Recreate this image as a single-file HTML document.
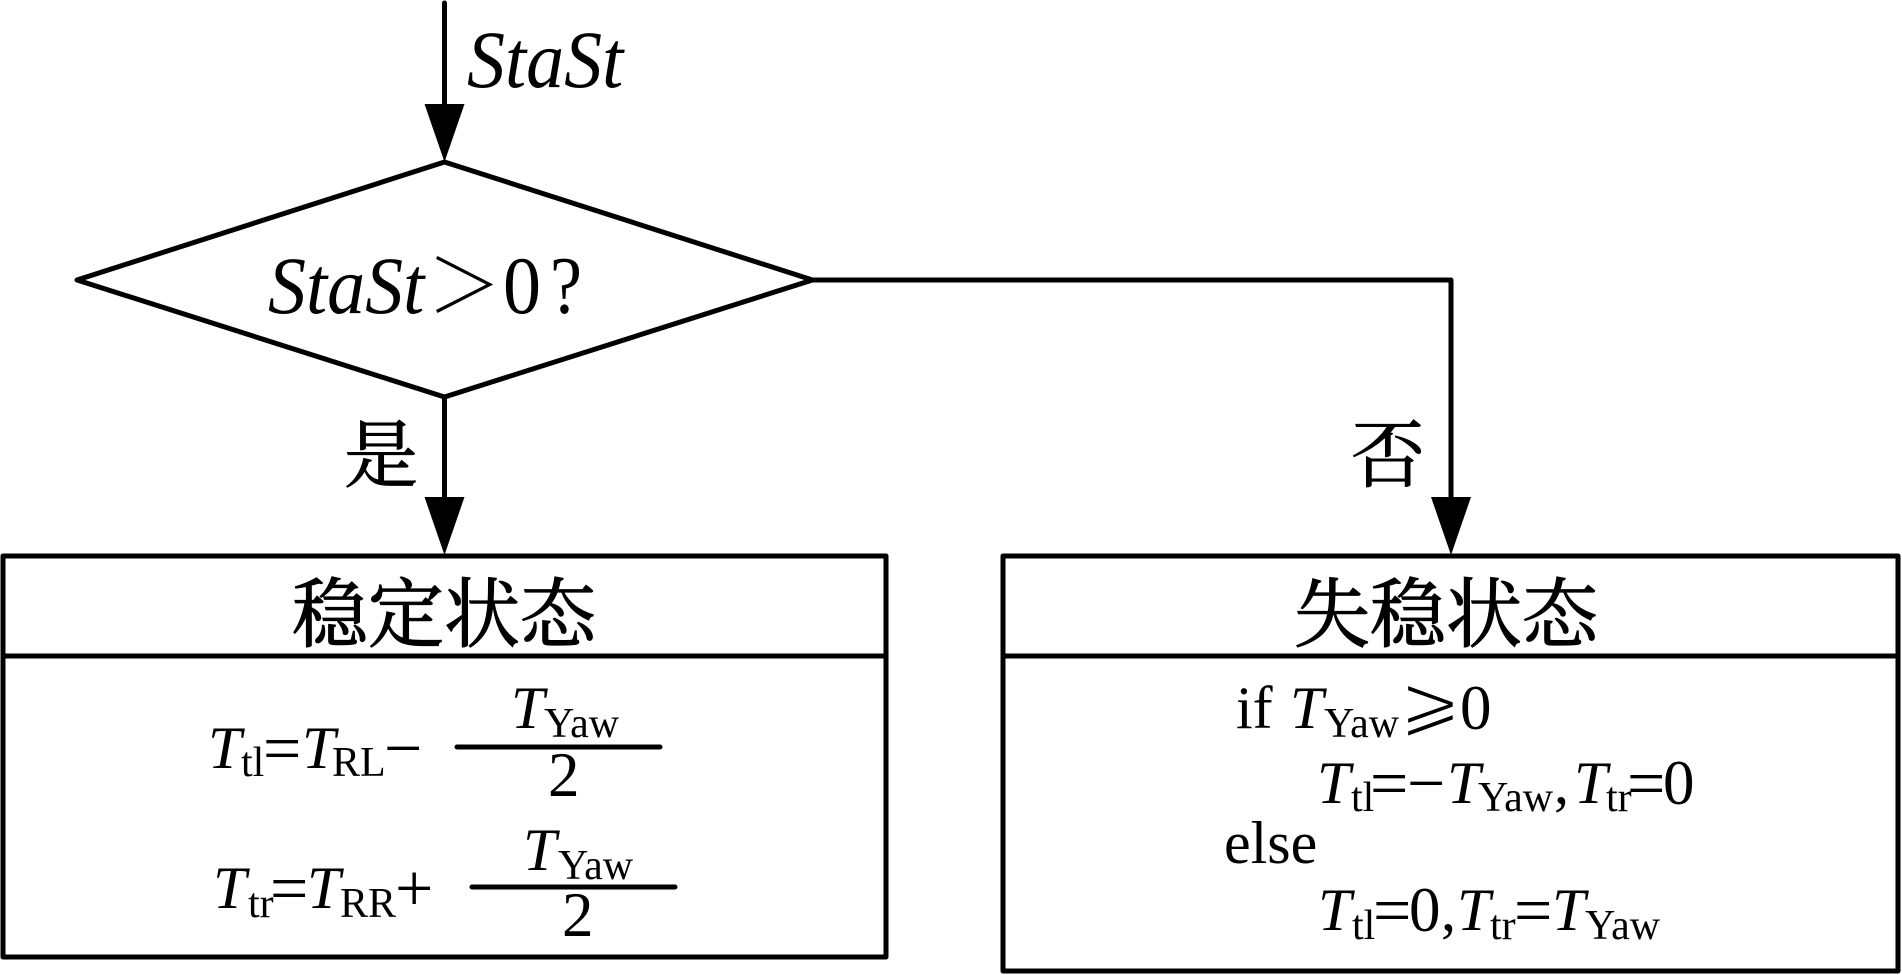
<!DOCTYPE html>
<html lang="zh">
<head>
<meta charset="utf-8">
<title>StaSt flowchart</title>
<style>
html,body{margin:0;padding:0;background:#fff;width:1902px;height:975px;overflow:hidden}
svg{display:block}
text{font-family:"Liberation Serif","Noto Serif CJK SC",serif;fill:#000;font-size:60px}
.i{font-style:italic}
.s{font-size:42px}
.d{font-size:63px}
.e{font-size:68px}
.big{font-size:76px}
.c{font-family:"Noto Serif CJK SC","Liberation Serif",serif;font-size:76px;stroke:#000;stroke-width:1.2px}
.c2{font-family:"Noto Serif CJK SC","Liberation Serif",serif;font-size:74px;stroke:#000;stroke-width:.9px}
.g{font-family:"Noto Serif CJK SC","Liberation Serif",serif;font-size:75px}
.ge{font-family:"Noto Serif CJK SC","Liberation Serif",serif;font-size:75px;stroke:#fff;stroke-width:2.4px}
</style>
</head>
<body>
<svg width="1902" height="975" viewBox="0 0 1902 975" xmlns="http://www.w3.org/2000/svg">
<g fill="none" stroke="#000" stroke-width="5" stroke-linejoin="round" stroke-linecap="round">
<path d="M444.5 3V110"/>
<path d="M444.5 162L812.5 280L444.5 397L77 280Z"/>
<path d="M444.5 397V500"/>
<path d="M812.5 280H1451V500"/>
<rect x="3" y="556" width="883" height="401"/>
<path d="M3 656H886"/>
<rect x="1003" y="556" width="895" height="415"/>
<path d="M1003 656H1898"/>
<path d="M457 747H660M472 887H675"/>
</g>
<g fill="#000">
<path d="M424.5 104H464.5L444.5 162Z"/>
<path d="M424.5 497H464.5L444.5 555Z"/>
<path d="M1431 497H1471L1451 555Z"/>
</g>

<text class="i big" transform="translate(467 87) scale(1 1.07)">StaSt</text>
<text class="i big" transform="translate(268 313) scale(1 1.07)">StaSt</text>
<text class="g" x="427" y="312">＞</text>
<text class="big" transform="translate(503 313) scale(1 1.07)">0</text>
<text class="big" transform="translate(550 313) scale(.95 1.07)">?</text>
<text class="c2" x="344" y="481">是</text>
<text class="c2" x="1351" y="481">否</text>

<text class="c" x="292" y="641">稳定状态</text>
<text class="c" x="1294" y="641">失稳状态</text>

<text class="i" x="208" y="768">T</text><text class="s" x="241" y="776">tl</text>
<text class="e" x="263" y="771">=</text>
<text class="i" x="302" y="768">T</text><text class="s" x="332" y="776">RL</text>
<text class="e" x="384" y="771">−</text>
<text class="i" x="511" y="728">T</text><text class="s" x="544" y="737">Yaw</text>
<text class="d" x="548" y="796">2</text>

<text class="i" x="213" y="908">T</text><text class="s" x="248" y="917">tr</text>
<text class="e" x="270" y="911">=</text>
<text class="i" x="307" y="908">T</text><text class="s" x="340" y="917">RR</text>
<text class="e" x="395" y="911">+</text>
<text class="i" x="523" y="870">T</text><text class="s" x="558" y="879">Yaw</text>
<text class="d" x="562" y="936">2</text>

<text x="1236" y="728">if</text>
<text class="i" x="1290" y="728">T</text><text class="s" x="1324" y="737">Yaw</text>
<text class="ge" x="1399" y="728">⩾</text>
<text class="d" x="1460" y="729">0</text>

<text class="i" x="1317" y="803">T</text><text class="s" x="1351" y="811">tl</text>
<text class="e" x="1370" y="806">=</text>
<text class="e" x="1407" y="806">−</text>
<text class="i" x="1447" y="803">T</text><text class="s" x="1478" y="811">Yaw</text>
<text x="1554" y="803">,</text>
<text class="i" x="1574" y="803">T</text><text class="s" x="1606" y="811">tr</text>
<text class="e" x="1627" y="806">=</text>
<text class="d" x="1663" y="804">0</text>

<text x="1224" y="863">else</text>

<text class="i" x="1318" y="930">T</text><text class="s" x="1352" y="939">tl</text>
<text class="e" x="1373" y="933">=</text>
<text class="d" x="1409" y="931">0</text>
<text x="1441" y="930">,</text>
<text class="i" x="1457" y="930">T</text><text class="s" x="1490" y="939">tr</text>
<text class="e" x="1514" y="933">=</text>
<text class="i" x="1552" y="930">T</text><text class="s" x="1585" y="939">Yaw</text>
</svg>
</body>
</html>
